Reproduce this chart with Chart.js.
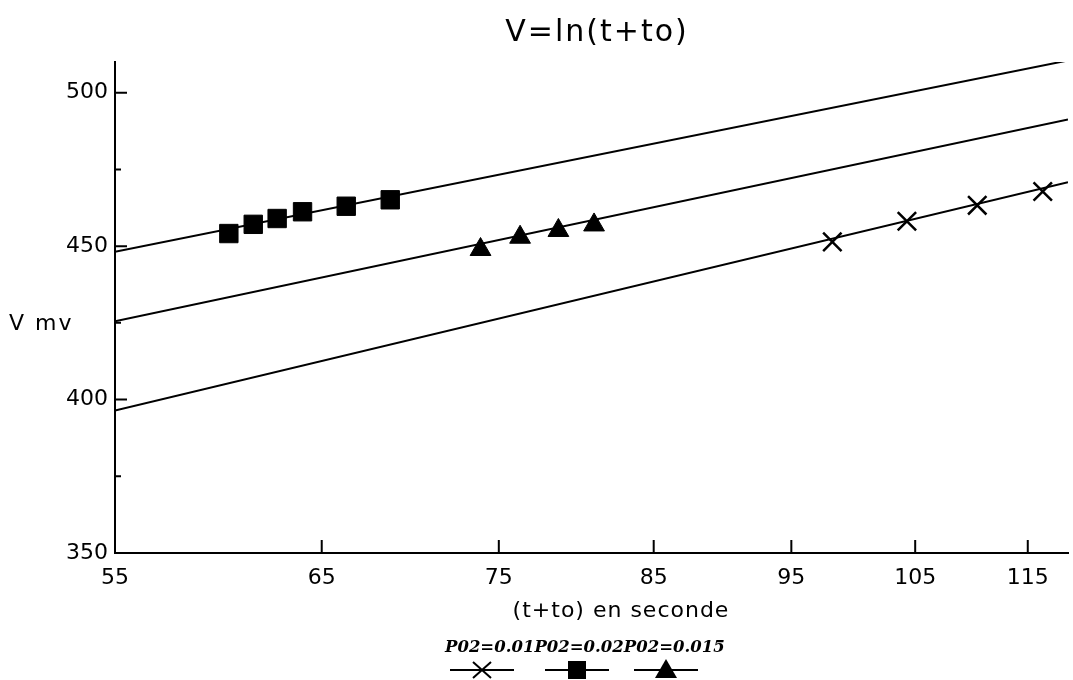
<!DOCTYPE html>
<html>
<head>
<meta charset="utf-8">
<title>V=ln(t+to)</title>
<script src="https://cdn.jsdelivr.net/npm/chart.js@4.4.0/dist/chart.umd.min.js"></script>
<style>
    html, body { margin: 0; padding: 0; background: #fff; overflow: hidden; }
    #chart { display: block; }
</style>
</head>
<body>
<canvas id="chart" width="1073" height="680"></canvas>
<script>
// axis ticks
const xTicks = [55, 65, 75, 85, 95, 105, 115];
const yTicks = [350, 400, 450, 500];
const yMinorTicks = [375, 425, 475];

// fitted lines V = a + b ln(t+to), given by their end points
const fitX = [55, 118.8];
const fit001 = [396.4, 470.8];
const fit002 = [448.2, 510.5];
const fit0015 = [425.5, 491.3];

// measured points
const t001 = [98.2, 104.3, 110.4, 116.4];
const v001 = [451.4, 458.1, 463.3, 467.8];
const t002 = [60.3, 61.5, 62.7, 64.0, 66.3, 68.7];
const v002 = [454.1, 457.1, 459.0, 461.2, 463.0, 465.1];
const t0015 = [73.9, 76.3, 78.7, 81.0];
const v0015 = [448.9, 452.9, 455.1, 456.9];

const seriesNames = ['P02=0.01', 'P02=0.02', 'P02=0.015'];

const pts = (xs, ys) => xs.map((x, i) => ({ x: x, y: ys[i] }));

const fitLine = (ys) => ({
    data: pts(fitX, ys),
    showLine: true,
    borderColor: '#000',
    borderWidth: 2,
    pointRadius: 0,
    order: 2
});

// title, axis names, inward tick marks and the legend
const decorations = {
    id: 'decorations',
    afterDraw(chart) {
        const ctx = chart.ctx;
        const xs = chart.scales.x;
        const ys = chart.scales.y;
        const area = chart.chartArea;
        ctx.save();
        ctx.fillStyle = '#000';
        ctx.strokeStyle = '#000';
        ctx.lineWidth = 2;

        ctx.textAlign = 'center';
        ctx.textBaseline = 'middle';
        ctx.font = '30px "DejaVu Sans"';
        ctx.letterSpacing = '2px';
        ctx.fillText('V=ln(t+to)', 597, 33);

        ctx.font = '22px "DejaVu Sans"';
        ctx.letterSpacing = '1px';
        ctx.fillText('(t+to) en seconde', 621, 611);

        ctx.textAlign = 'left';
        ctx.letterSpacing = '2px';
        ctx.fillText('V mv', 9, 324);
        ctx.letterSpacing = '0px';

        ctx.beginPath();
        yTicks.forEach(v => {
            const y = ys.getPixelForValue(v);
            ctx.moveTo(area.left, y);
            ctx.lineTo(area.left + 12, y);
        });
        yMinorTicks.forEach(v => {
            const y = ys.getPixelForValue(v);
            ctx.moveTo(area.left, y);
            ctx.lineTo(area.left + 6, y);
        });
        xTicks.slice(1).forEach(v => {
            const x = xs.getPixelForValue(v);
            ctx.moveTo(x, area.bottom);
            ctx.lineTo(x, area.bottom - 13);
        });
        ctx.stroke();

        // legend: names on one row, line samples with markers below
        ctx.font = 'italic bold 16.5px "DejaVu Serif"';
        ctx.textAlign = 'left';
        ctx.textBaseline = 'alphabetic';
        let tx = 445;
        seriesNames.forEach(name => {
            ctx.fillText(name, tx, 652);
            tx += ctx.measureText(name).width;
        });
        const centers = [482, 577, 666];
        const ly = 670;
        centers.forEach((cx, i) => {
            ctx.beginPath();
            ctx.moveTo(cx - 32, ly);
            ctx.lineTo(cx + 32, ly);
            ctx.stroke();
            if (i === 0) {
                ctx.beginPath();
                ctx.moveTo(cx - 9, ly - 8);
                ctx.lineTo(cx + 9, ly + 8);
                ctx.moveTo(cx - 9, ly + 8);
                ctx.lineTo(cx + 9, ly - 8);
                ctx.stroke();
            } else if (i === 1) {
                ctx.fillRect(cx - 9, ly - 9, 18, 18);
            } else {
                ctx.beginPath();
                ctx.moveTo(cx, ly - 11);
                ctx.lineTo(cx + 11, ly + 8);
                ctx.lineTo(cx - 11, ly + 8);
                ctx.closePath();
                ctx.fill();
            }
        });
        ctx.restore();
    }
};

const tickFont = { family: 'DejaVu Sans', size: 22 };

new Chart(document.getElementById('chart'), {
    type: 'scatter',
    data: {
        datasets: [
            fitLine(fit001),
            fitLine(fit002),
            fitLine(fit0015),
            {
                label: seriesNames[0],
                data: pts(t001, v001),
                pointStyle: 'crossRot',
                pointRadius: 13,
                borderColor: '#000',
                borderWidth: 2.5,
                order: 1
            },
            {
                label: seriesNames[1],
                data: pts(t002, v002),
                pointStyle: 'rect',
                pointRadius: 13,
                backgroundColor: '#000',
                borderColor: '#000',
                borderWidth: 1,
                order: 1
            },
            {
                label: seriesNames[2],
                data: pts(t0015, v0015),
                pointStyle: 'triangle',
                pointRadius: 12,
                backgroundColor: '#000',
                borderColor: '#000',
                borderWidth: 1,
                order: 1
            }
        ]
    },
    options: {
        responsive: false,
        animation: false,
        devicePixelRatio: 1,
        layout: { autoPadding: false, padding: { top: 62, right: 5, left: 0, bottom: 0 } },
        plugins: {
            legend: { display: false },
            title: { display: false },
            tooltip: { enabled: false }
        },
        scales: {
            x: {
                type: 'logarithmic',
                min: 55,
                max: 118.8,
                afterBuildTicks: (scale) => { scale.ticks = xTicks.map(v => ({ value: v })); },
                afterFit: (scale) => {
                    scale.height = 127;
                    scale.paddingLeft = 0;
                    scale.paddingRight = 0;
                },
                ticks: {
                    autoSkip: false,
                    maxRotation: 0,
                    color: '#000',
                    font: tickFont,
                    padding: 12,
                    callback: (v) => String(v)
                },
                grid: { display: true, drawOnChartArea: false, drawTicks: false },
                border: { display: true, color: '#000', width: 2 }
            },
            y: {
                type: 'linear',
                min: 350,
                max: 510,
                afterBuildTicks: (scale) => { scale.ticks = yTicks.map(v => ({ value: v })); },
                afterFit: (scale) => {
                    scale.width = 115;
                    scale.paddingTop = 0;
                    scale.paddingBottom = 0;
                },
                ticks: {
                    color: '#000',
                    font: tickFont,
                    padding: 7,
                    callback: (v) => String(v)
                },
                grid: { display: true, drawOnChartArea: false, drawTicks: false },
                border: { display: true, color: '#000', width: 2 }
            }
        }
    },
    plugins: [decorations]
});
</script>
</body>
</html>
